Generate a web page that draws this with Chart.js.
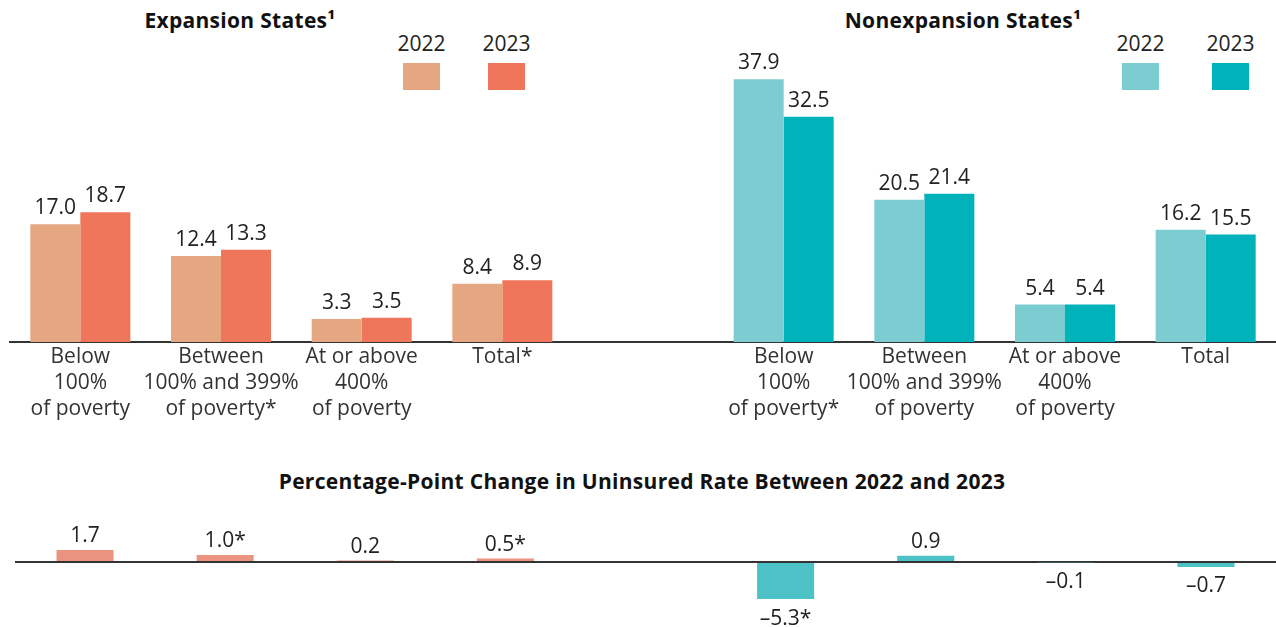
<!DOCTYPE html>
<html>
<head>
<meta charset="utf-8">
<script src="https://cdn.jsdelivr.net/npm/chart.js@4"></script>
<style>
    body { margin: 0; background: #fff; font-family: 'Open Sans', sans-serif; color: #222; }
    #wrap { position: relative; width: 1276px; height: 627px; overflow: hidden; }
    canvas { position: absolute; left: 0; }
    #topChart { top: 0; }
    #changeChart { top: 500px; }
    .title { position: absolute; transform: translateX(-50%); font-weight: 700; font-size: 21px; letter-spacing: 0.3px; line-height: 24px; white-space: nowrap; color: #111; }
    .leg { position: absolute; width: 37px; text-align: center; }
    .leg span { display: block; font-size: 21px; line-height: 24px; margin-left: -20px; margin-right: -20px; color: #222; }
    .leg i { display: block; width: 37px; height: 27px; margin-top: 8px; }
</style>
</head>
<body>
<div id="wrap">
    <div class="title" style="left:240px; top:8px;">Expansion States¹</div>
    <div class="title" style="left:963px; top:8px;">Nonexpansion States¹</div>
    <div class="title" style="left:642px; top:469px;">Percentage-Point Change in Uninsured Rate Between 2022 and 2023</div>

    <div class="leg" style="left:403px; top:31px;"><span>2022</span><i style="background:#e5a782"></i></div>
    <div class="leg" style="left:488px; top:31px;"><span>2023</span><i style="background:#f0765b"></i></div>
    <div class="leg" style="left:1122px; top:31px;"><span>2022</span><i style="background:#7bcdd2"></i></div>
    <div class="leg" style="left:1212px; top:31px;"><span>2023</span><i style="background:#00b2b9"></i></div>

    <canvas id="topChart" width="1276" height="432"></canvas>
    <canvas id="changeChart" width="1276" height="127"></canvas>
</div>
<script>
// categories: expansion states, an empty slot, then nonexpansion states
const expansionLabels = [
    ['Below', '100%', 'of poverty'],
    ['Between', '100% and 399%', 'of poverty*'],
    ['At or above', '400%', 'of poverty'],
    ['Total*']
];
const nonexpansionLabels = [
    ['Below', '100%', 'of poverty*'],
    ['Between', '100% and 399%', 'of poverty'],
    ['At or above', '400%', 'of poverty'],
    ['Total']
];
const expansion2022 = [17.0, 12.4, 3.3, 8.4];
const expansion2023 = [18.7, 13.3, 3.5, 8.9];
const nonexpansion2022 = [37.9, 20.5, 5.4, 16.2];
const nonexpansion2023 = [32.5, 21.4, 5.4, 15.5];

const expansionChange = [1.7, 1.0, 0.2, 0.5];
const nonexpansionChange = [-5.3, 0.9, -0.1, -0.7];
const expansionChangeLabels = ['1.7', '1.0*', '0.2', '0.5*'];
const nonexpansionChangeLabels = ['–5.3*', '0.9', '–0.1', '–0.7'];

const labels = [...expansionLabels, '', ...nonexpansionLabels];
const data2022 = [...expansion2022, null, ...nonexpansion2022];
const data2023 = [...expansion2023, null, ...nonexpansion2023];
const changeData = [...expansionChange, null, ...nonexpansionChange];
const changeText = [...expansionChangeLabels, '', ...nonexpansionChangeLabels];

const FONT = "'Open Sans', sans-serif";
const side = (a, b) => labels.map((l, i) => i < 4 ? a : b);

const valueLabels = {
    id: 'valueLabels',
    afterDatasetsDraw(chart, args, opts) {
        const ctx = chart.ctx;
        ctx.save();
        ctx.font = '21px ' + FONT;
        ctx.fillStyle = '#222';
        ctx.textAlign = 'center';
        chart.data.datasets.forEach((ds, di) => {
            chart.getDatasetMeta(di).data.forEach((bar, i) => {
                const v = ds.data[i];
                if (v === null || v === undefined) return;
                const text = opts.text ? opts.text[i] : v.toFixed(1);
                if (v >= 0) {
                    ctx.textBaseline = 'alphabetic';
                    ctx.fillText(text, bar.x, bar.y - opts.gap);
                } else {
                    ctx.textBaseline = 'top';
                    ctx.fillText(text, bar.x, bar.y + opts.gap + 1);
                }
            });
        });
        ctx.restore();
    }
};

new Chart(document.getElementById('topChart'), {
    type: 'bar',
    data: {
        labels: labels,
        datasets: [{
            label: '2022',
            data: data2022,
            backgroundColor: side('#e5a782', '#7bcdd2')
        }, {
            label: '2023',
            data: data2023,
            backgroundColor: side('#f0765b', '#00b2b9')
        }]
    },
    options: {
        responsive: false,
        animation: false,
        devicePixelRatio: 1,
        layout: { padding: { top: 30, left: 10, right: 0, bottom: 0 } },
        datasets: { bar: { categoryPercentage: 0.711, barPercentage: 1 } },
        plugins: {
            legend: { display: false },
            tooltip: { enabled: false },
            valueLabels: { gap: 10 }
        },
        scales: {
            x: {
                grid: { display: false, drawTicks: false },
                border: { display: true, color: '#333', width: 2 },
                ticks: {
                    color: '#333',
                    padding: 2,
                    autoSkip: false,
                    maxRotation: 0,
                    font: { family: FONT, size: 21, lineHeight: '26px' }
                },
                afterFit: s => { s.height = 90; }
            },
            y: {
                display: false,
                min: 0,
                max: 45
            }
        }
    },
    plugins: [valueLabels]
});

new Chart(document.getElementById('changeChart'), {
    type: 'bar',
    data: {
        labels: labels,
        datasets: [{
            label: 'Change',
            data: changeData,
            backgroundColor: side('#ea9380', '#4cc1c6')
        }]
    },
    options: {
        responsive: false,
        animation: false,
        devicePixelRatio: 1,
        layout: { padding: { top: 20, left: 15, right: 0, bottom: 23 } },
        datasets: { bar: { categoryPercentage: 1, barPercentage: 0.407 } },
        plugins: {
            legend: { display: false },
            tooltip: { enabled: false },
            valueLabels: { gap: 8, text: changeText }
        },
        scales: {
            x: { display: false },
            y: {
                min: -6,
                max: 6,
                ticks: { display: false, stepSize: 6 },
                border: { display: false },
                grid: {
                    drawTicks: false,
                    lineWidth: 2,
                    color: c => c.tick && c.tick.value === 0 ? '#333' : 'rgba(0,0,0,0)'
                },
                afterFit: s => { s.width = 0; }
            }
        }
    },
    plugins: [valueLabels]
});
</script>
</body>
</html>
